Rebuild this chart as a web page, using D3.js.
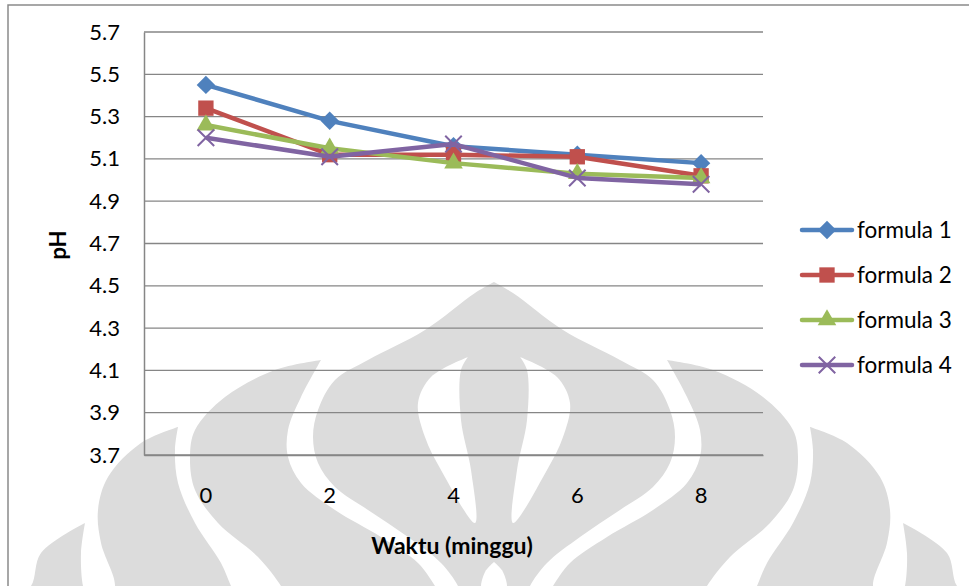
<!DOCTYPE html>
<html>
<head>
<meta charset="utf-8">
<script src="https://cdn.jsdelivr.net/npm/d3@7"></script>
<style>
body { margin: 0; background: #fff; }
text { font-family: Lato, "Open Sans", sans-serif; fill: #000; }
</style>
</head>
<body>
<svg id="chart"></svg>
<script>
// chart values
let weeks = [0, 2, 4, 6, 8]
let seriesNames = ["formula 1", "formula 2", "formula 3", "formula 4"]
let formula1 = [5.45, 5.28, 5.16, 5.12, 5.08]
let formula2 = [5.34, 5.12, 5.12, 5.11, 5.02]
let formula3 = [5.26, 5.15, 5.08, 5.03, 5.01]
let formula4 = [5.20, 5.11, 5.17, 5.01, 4.98]
let yTicks = [3.7, 3.9, 4.1, 4.3, 4.5, 4.7, 4.9, 5.1, 5.3, 5.5, 5.7]

let colors = ["#4f81bd", "#c0504d", "#9bbb59", "#8064a2"]
let series = [formula1, formula2, formula3, formula4].map((v, i) => ({name: seriesNames[i], values: v, color: colors[i]}))

let w = 969
let h = 586
let plotLeft = 144, plotRight = 763, plotTop = 32, plotBottom = 455

let svg = d3.select("#chart").attr("width", w).attr("height", h)

// background watermark (light grey logo behind the chart)
let wm = svg.append("g")
let cx = 494
let mirror = pts => pts.map(p => [2 * cx - p[0], p[1]])
let shape = d3.line().curve(d3.curveCatmullRom)
function blob(pts, fill) {
    wm.append("path").attr("d", shape(pts) + "Z").attr("fill", fill)
}
let grey = "#dcdcdc"
let onionRight = [[494,282],[513,293],[563,330],[620,360],[653,380],[670,410],[675,437],[670,463],[653,487],[620,510],[580,537],[547,563],[530,586],[525,600]]
blob(onionRight.concat(mirror(onionRight).reverse()), grey)
let leaf = [[520,357],[557,377],[570,403],[563,437],[547,470],[513,523],[517,470],[527,420],[527,370],[520,357]]
blob(leaf, "#fff")
blob(mirror(leaf), "#fff")
blob([[494,562],[503,572],[506,590],[482,590],[485,572],[494,562]], "#fff")
let crescent = [[667,360],[687,397],[700,430],[700,457],[687,483],[653,510],[607,537],[570,563],[553,586],[545,600],[700,600],[707,586],[730,557],[770,523],[793,490],[798,457],[793,430],[763,397],[713,370],[667,360]]
blob(crescent, grey)
blob(mirror(crescent), grey)
let outer = [[810,427],[813,450],[810,483],[793,523],[767,563],[757,586],[750,600],[880,600],[873,586],[887,543],[890,510],[880,477],[847,443],[810,427]]
blob(outer, grey)
blob(mirror(outer), grey)
let edge = [[903,523],[907,553],[905,586],[900,600],[975,600],[957,586],[947,553],[903,523]]
blob(edge, grey)
blob(mirror(edge), grey)

// chart area border
svg.append("path")
    .attr("d", `M8,${h + 2}V5H${w + 2}`)
    .attr("fill", "none")
    .attr("stroke", "#8a8a8a")
    .attr("stroke-width", 1.5)

let xscale = d3.scaleBand()
    .domain(weeks)
    .range([plotLeft, plotRight])

let yscale = d3.scaleLinear()
    .domain([3.7, 5.7])
    .range([plotBottom, plotTop])

// gridlines
svg.append("g")
    .selectAll("line")
    .data(yTicks)
    .enter().append("line")
    .attr("x1", plotLeft).attr("x2", plotRight)
    .attr("y1", d => yscale(d)).attr("y2", d => yscale(d))
    .attr("stroke", "#868686")
    .attr("stroke-width", 1.3)

// y axis
let yaxis = d3.axisLeft(yscale).tickValues(yTicks).tickFormat(d3.format(".1f")).tickSize(0).tickPadding(24)
let yaxisg = svg.append("g")
    .attr("transform", `translate(${plotLeft},0)`)
    .call(yaxis)
yaxisg.select(".domain").attr("stroke", "#868686").attr("stroke-width", 1.5)
yaxisg.selectAll("text").style("font-size", "22px").attr("fill", "#000")

// x axis
let xaxis = d3.axisBottom(xscale).tickSize(0).tickPadding(32)
let xaxisg = svg.append("g")
    .attr("transform", `translate(0,${plotBottom})`)
    .call(xaxis)
xaxisg.select(".domain").attr("stroke", "#868686").attr("stroke-width", 1.5)
xaxisg.selectAll("text").style("font-size", "22px").attr("fill", "#000")

// axis titles
svg.append("text")
    .text("Waktu (minggu)")
    .attr("x", 452).attr("y", 554)
    .attr("text-anchor", "middle")
    .style("font-size", "23px").style("font-weight", "bold")

svg.append("text")
    .text("pH")
    .attr("transform", "translate(66,245) rotate(-90)")
    .attr("text-anchor", "middle")
    .style("font-size", "22px").style("font-weight", "bold")

// markers
let markers = [
    {type: d3.symbolSquare, size: 170, rotate: 45, fill: true},
    {type: d3.symbolSquare, size: 235, rotate: 0, fill: true},
    {type: d3.symbolTriangle, size: 150, rotate: 0, fill: true},
    {type: d3.symbolTimes, size: 180, rotate: 0, fill: false}
]
function drawMarker(g, i, x, y) {
    let m = markers[i]
    let p = g.append("path")
        .attr("d", d3.symbol().type(m.type).size(m.size)())
        .attr("transform", `translate(${x},${y}) rotate(${m.rotate})`)
    if (m.fill) p.attr("fill", colors[i])
    else p.attr("fill", "none").attr("stroke", colors[i]).attr("stroke-width", 2)
}

let line = d3.line()
    .x((d, i) => xscale(weeks[i]) + xscale.bandwidth() / 2)
    .y(d => yscale(d))

series.forEach((s, i) => {
    let g = svg.append("g")
    g.append("path")
        .attr("d", line(s.values))
        .attr("fill", "none")
        .attr("stroke", s.color)
        .attr("stroke-width", 4.5)
        .attr("stroke-linejoin", "round")
    s.values.forEach((v, j) => drawMarker(g, i, xscale(weeks[j]) + xscale.bandwidth() / 2, yscale(v)))
})

// legend
let legend = svg.append("g")
series.forEach((s, i) => {
    let y = 230 + i * 45
    let g = legend.append("g")
    g.append("line")
        .attr("x1", 802).attr("x2", 852)
        .attr("y1", y).attr("y2", y)
        .attr("stroke", s.color)
        .attr("stroke-width", 4.5)
        .attr("stroke-linecap", "round")
    drawMarker(g, i, 827, y)
    g.append("text")
        .text(s.name)
        .attr("x", 857).attr("y", y)
        .attr("dy", "0.35em")
        .style("font-size", "22.5px")
})
</script>
</body>
</html>
